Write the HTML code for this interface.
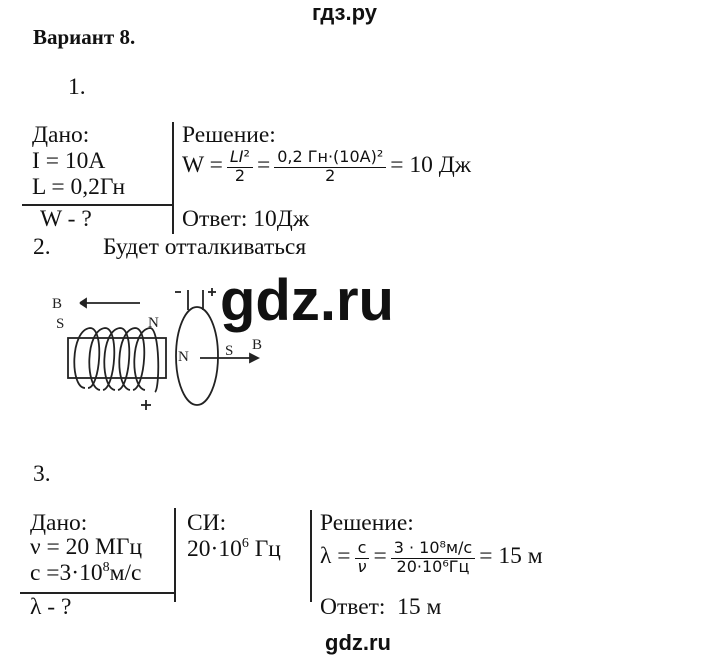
<!DOCTYPE html>
<html><head><meta charset="utf-8"><style>
body{margin:0;width:720px;height:658px;background:#fff;position:relative;overflow:hidden;font-family:"Liberation Serif",serif;color:#111}
.t{position:absolute;white-space:nowrap;font-size:23.5px;line-height:1}
.s{font-family:"Liberation Sans",sans-serif;font-weight:bold}
.l{position:absolute;background:#222}
.fr{display:inline-block;vertical-align:middle;text-align:center;font-family:"DejaVu Sans",sans-serif;font-size:16px;margin:0 4px}
.fr span{display:block;padding:0 3px}
.fr .n{border-bottom:1.5px solid #111;padding-bottom:2px}
</style></head><body>
<div class="t s" style="left:312px;top:2px;font-size:22px">гдз.ру</div>
<div class="t" style="left:33px;top:27px;font-weight:bold;font-size:21px">Вариант 8.</div>
<div class="t" style="left:68px;top:76px">1.</div>

<div class="l" style="left:172px;top:122px;width:2px;height:112px"></div>
<div class="l" style="left:22px;top:204px;width:151px;height:2px"></div>
<div class="t" style="left:32px;top:124px">Дано:</div>
<div class="t" style="left:32px;top:150px">I = 10A</div>
<div class="t" style="left:32px;top:176px">L = 0,2Гн</div>
<div class="t" style="left:40px;top:208px">W - ?</div>
<div class="t" style="left:182px;top:124px">Решение:</div>
<div class="t" style="left:182px;top:149px">W =<span class="fr"><span class="n"><i>LI</i>²</span><span>2</span></span>=<span class="fr"><span class="n">0,2 Гн·(10A)²</span><span>2</span></span>= 10 Дж</div>
<div class="t" style="left:182px;top:208px">Ответ: 10Дж</div>
<div class="t" style="left:33px;top:236px">2.</div>
<div class="t" style="left:103px;top:236px">Будет отталкиваться</div>

<svg style="position:absolute;left:30px;top:270px" width="380" height="150" viewBox="0 0 380 150">
<g fill="none" stroke="#222" stroke-width="1.8">
<line x1="50" y1="33" x2="110" y2="33"/>
<polyline points="50,33 56,29 56,37 50,33" fill="#222"/>
<rect x="38" y="68" width="98" height="40"/>
<path d="M55,118 C40,118 40,60 60,58 C75,58 70,118 58,118"/>
<path d="M70,120 C55,118 55,60 75,58 C90,58 85,118 73,120"/>
<path d="M85,120 C70,118 70,60 90,58 C105,58 100,118 88,120"/>
<path d="M100,120 C85,118 85,60 105,58 C120,58 115,118 103,120"/>
<path d="M115,120 C100,118 100,60 120,58 C130,58 130,118 125,122"/>
<ellipse cx="167" cy="86" rx="21" ry="49"/>
<path d="M158,40 L158,20 M173,40 L173,20"/>
<line x1="170" y1="88" x2="222" y2="88"/>
<polygon points="228,88 220,84 220,92" fill="#222"/>
<line x1="145" y1="22" x2="151" y2="22"/>
<line x1="178" y1="22" x2="186" y2="22"/><line x1="182" y1="18" x2="182" y2="26"/>
<line x1="111" y1="135" x2="121" y2="135"/><line x1="116" y1="130" x2="116" y2="140"/>
</g>
<g font-family="Liberation Serif,serif" font-size="15" fill="#222">
<text x="22" y="38">B</text><text x="26" y="58">S</text><text x="118" y="57">N</text>
<text x="148" y="91">N</text><text x="195" y="85">S</text><text x="222" y="79">B</text>
</g>
</svg>
<div class="t s" style="left:220px;top:272px;font-size:58px">gdz.ru</div>

<div class="t" style="left:33px;top:463px">3.</div>
<div class="l" style="left:174px;top:508px;width:2px;height:94px"></div>
<div class="l" style="left:310px;top:510px;width:2px;height:92px"></div>
<div class="l" style="left:20px;top:592px;width:155px;height:2px"></div>
<div class="t" style="left:30px;top:512px">Дано:</div>
<div class="t" style="left:30px;top:536px">ν = 20 МГц</div>
<div class="t" style="left:30px;top:561px">c =3·10<sup style="font-size:14px">8</sup>м/с</div>
<div class="t" style="left:30px;top:596px">λ - ?</div>
<div class="t" style="left:187px;top:512px">СИ:</div>
<div class="t" style="left:187px;top:537px">20·10<sup style="font-size:14px">6</sup> Гц</div>
<div class="t" style="left:320px;top:512px">Решение:</div>
<div class="t" style="left:320px;top:540px">λ =<span class="fr"><span class="n">c</span><span><i>ν</i></span></span>=<span class="fr"><span class="n">3 · 10⁸м/с</span><span>20·10⁶Гц</span></span>= 15 м</div>
<div class="t" style="left:320px;top:596px">Ответ:&nbsp; 15 м</div>
<div class="t s" style="left:325px;top:632px;font-size:22px">gdz.ru</div>
</body></html>
